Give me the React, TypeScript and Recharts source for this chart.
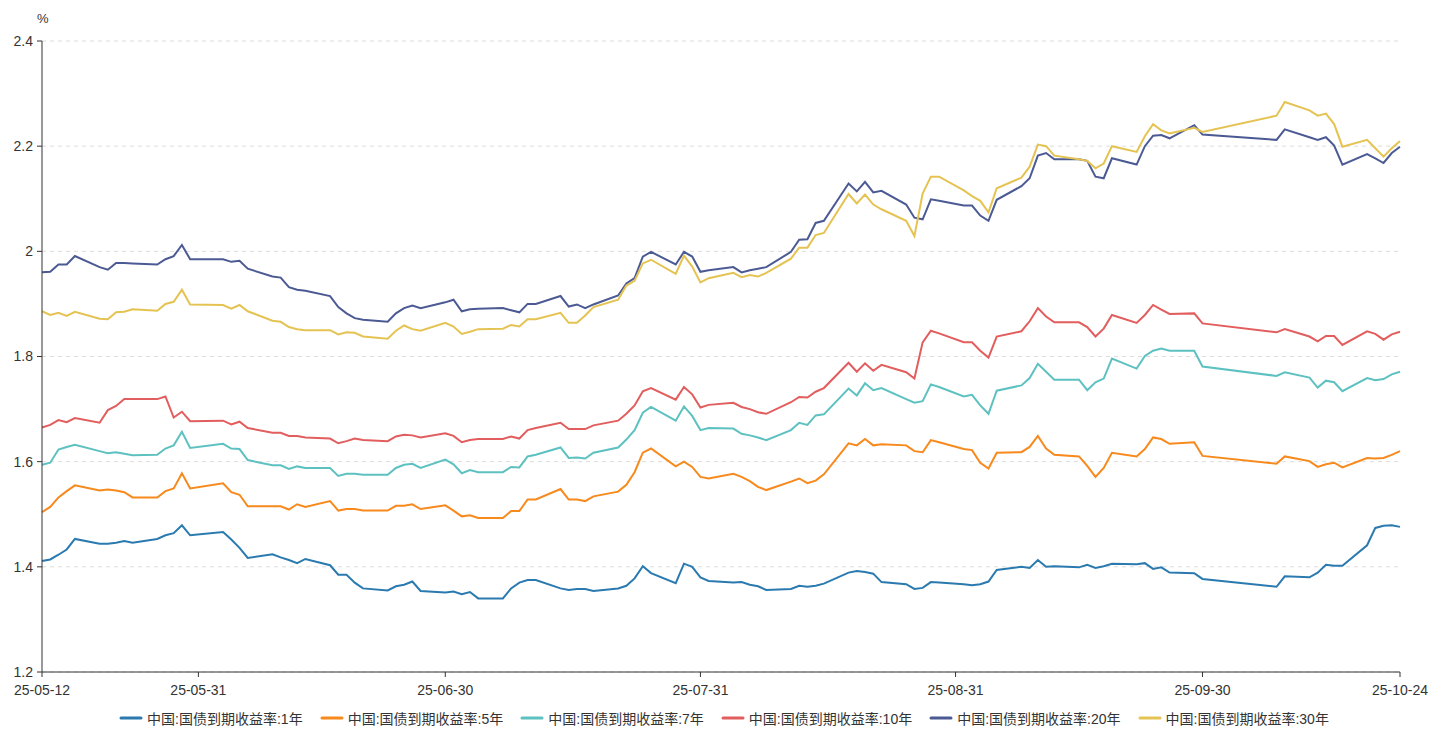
import React from 'react';
import { LineChart, Line, XAxis, YAxis, CartesianGrid, Legend } from 'recharts';

// trading days (2025), month-day
const dates = [
  '05-12', '05-13', '05-14', '05-15', '05-16', '05-19', '05-20', '05-21', '05-22', '05-23', '05-26', '05-27', '05-28', '05-29', '05-30',
  '06-03', '06-04', '06-05', '06-06', '06-09', '06-10', '06-11', '06-12', '06-13', '06-16', '06-17', '06-18', '06-19', '06-20',
  '06-23', '06-24', '06-25', '06-26', '06-27', '06-30',
  '07-01', '07-02', '07-03', '07-04', '07-07', '07-08', '07-09', '07-10', '07-11', '07-14', '07-15', '07-16', '07-17', '07-18',
  '07-21', '07-22', '07-23', '07-24', '07-25', '07-28', '07-29', '07-30', '07-31',
  '08-01', '08-04', '08-05', '08-06', '08-07', '08-08', '08-11', '08-12', '08-13', '08-14', '08-15', '08-18', '08-19', '08-20',
  '08-21', '08-22', '08-25', '08-26', '08-27', '08-28', '08-29',
  '09-01', '09-02', '09-03', '09-04', '09-05', '09-08', '09-09', '09-10', '09-11', '09-12', '09-15', '09-16', '09-17', '09-18',
  '09-19', '09-22', '09-23', '09-24', '09-25', '09-26', '09-29', '09-30',
  '10-09', '10-10', '10-13', '10-14', '10-15', '10-16', '10-17', '10-20', '10-21', '10-22', '10-23', '10-24',
];

const yield1y = [
  1.411, 1.414, 1.423, 1.433, 1.453, 1.444, 1.444, 1.446, 1.449, 1.446, 1.453, 1.460, 1.464, 1.479, 1.460, 1.466, 1.452, 1.436, 1.417,
  1.424, 1.418, 1.413, 1.407, 1.415, 1.403, 1.385, 1.385, 1.370, 1.359, 1.355, 1.363, 1.366, 1.372, 1.354, 1.351, 1.353, 1.348, 1.352, 1.340,
  1.340, 1.359, 1.370, 1.375, 1.375, 1.359, 1.356, 1.358, 1.358, 1.354, 1.359, 1.364, 1.378, 1.401, 1.388, 1.369, 1.406, 1.400, 1.380, 1.373,
  1.370, 1.371, 1.366, 1.363, 1.356, 1.358, 1.364, 1.362, 1.364, 1.368, 1.389, 1.392, 1.390, 1.387, 1.371, 1.367, 1.358, 1.360, 1.371, 1.370,
  1.367, 1.365, 1.367, 1.372, 1.394, 1.400, 1.398, 1.413, 1.400, 1.401, 1.399, 1.404, 1.398, 1.401, 1.406, 1.405, 1.407, 1.396, 1.399, 1.389,
  1.388, 1.377, 1.362, 1.382, 1.380, 1.389, 1.404, 1.402, 1.402, 1.441, 1.474, 1.478, 1.479, 1.476,
];

const yield5y = [
  1.504, 1.514, 1.532, 1.544, 1.555, 1.545, 1.547, 1.545, 1.542, 1.532, 1.532, 1.544, 1.549, 1.578, 1.549, 1.559, 1.542, 1.537, 1.515,
  1.515, 1.515, 1.509, 1.519, 1.514, 1.525, 1.507, 1.510, 1.510, 1.507, 1.507, 1.516, 1.516, 1.519, 1.510, 1.517, 1.507, 1.496, 1.498, 1.493,
  1.493, 1.506, 1.506, 1.528, 1.528, 1.548, 1.528, 1.528, 1.525, 1.534, 1.543, 1.556, 1.580, 1.617, 1.625, 1.591, 1.600, 1.590, 1.571, 1.568,
  1.577, 1.571, 1.563, 1.552, 1.546, 1.562, 1.568, 1.559, 1.564, 1.576, 1.635, 1.631, 1.643, 1.631, 1.633, 1.631, 1.620, 1.618, 1.641, 1.637,
  1.624, 1.622, 1.598, 1.587, 1.617, 1.618, 1.628, 1.649, 1.625, 1.613, 1.610, 1.592, 1.571, 1.588, 1.617, 1.610, 1.624, 1.646, 1.643, 1.634,
  1.637, 1.611, 1.596, 1.610, 1.601, 1.590, 1.595, 1.598, 1.589, 1.607, 1.606, 1.607, 1.613, 1.620,
];

const yield7y = [
  1.594, 1.598, 1.623, 1.628, 1.632, 1.620, 1.616, 1.618, 1.615, 1.612, 1.613, 1.625, 1.631, 1.657, 1.626, 1.634, 1.625, 1.624, 1.603,
  1.593, 1.593, 1.586, 1.591, 1.588, 1.588, 1.573, 1.577, 1.577, 1.575, 1.575, 1.588, 1.594, 1.596, 1.588, 1.604, 1.595, 1.578, 1.584, 1.580,
  1.580, 1.590, 1.589, 1.610, 1.613, 1.627, 1.607, 1.608, 1.606, 1.617, 1.627, 1.642, 1.660, 1.693, 1.704, 1.678, 1.705, 1.687, 1.660, 1.664,
  1.663, 1.653, 1.650, 1.646, 1.641, 1.660, 1.674, 1.670, 1.688, 1.690, 1.739, 1.726, 1.749, 1.736, 1.740, 1.719, 1.712, 1.715, 1.747, 1.742,
  1.724, 1.727, 1.707, 1.691, 1.735, 1.745, 1.759, 1.786, 1.771, 1.756, 1.756, 1.736, 1.751, 1.758, 1.796, 1.777, 1.801, 1.811, 1.815, 1.811,
  1.811, 1.781, 1.763, 1.770, 1.760, 1.741, 1.754, 1.751, 1.734, 1.759, 1.755, 1.757, 1.766, 1.771,
];

const yield10y = [
  1.665, 1.670, 1.679, 1.675, 1.683, 1.674, 1.698, 1.706, 1.719, 1.719, 1.719, 1.724, 1.684, 1.695, 1.677, 1.678, 1.671, 1.676, 1.664,
  1.655, 1.655, 1.649, 1.649, 1.646, 1.644, 1.635, 1.639, 1.644, 1.641, 1.639, 1.648, 1.651, 1.650, 1.646, 1.654, 1.649, 1.637, 1.641, 1.643,
  1.643, 1.648, 1.644, 1.660, 1.664, 1.674, 1.662, 1.662, 1.662, 1.669, 1.678, 1.691, 1.707, 1.734, 1.740, 1.718, 1.742, 1.728, 1.703, 1.708,
  1.712, 1.704, 1.700, 1.694, 1.691, 1.713, 1.723, 1.722, 1.733, 1.740, 1.788, 1.771, 1.787, 1.773, 1.784, 1.770, 1.758, 1.827, 1.849, 1.844,
  1.827, 1.827, 1.811, 1.798, 1.838, 1.848, 1.867, 1.892, 1.876, 1.865, 1.865, 1.856, 1.838, 1.853, 1.879, 1.864, 1.879, 1.898, 1.889, 1.881,
  1.882, 1.863, 1.846, 1.852, 1.838, 1.829, 1.839, 1.839, 1.822, 1.848, 1.843, 1.832, 1.842, 1.847,
];

const yield20y = [
  1.960, 1.961, 1.975, 1.975, 1.991, 1.970, 1.965, 1.978, 1.978, 1.977, 1.975, 1.985, 1.991, 2.012, 1.985, 1.985, 1.980, 1.982, 1.967,
  1.952, 1.950, 1.932, 1.927, 1.925, 1.915, 1.894, 1.882, 1.873, 1.870, 1.866, 1.882, 1.892, 1.897, 1.892, 1.903, 1.908, 1.886, 1.890, 1.891,
  1.892, 1.888, 1.884, 1.900, 1.900, 1.915, 1.895, 1.899, 1.892, 1.899, 1.916, 1.939, 1.949, 1.990, 1.999, 1.975, 1.999, 1.990, 1.961, 1.964,
  1.970, 1.960, 1.964, 1.967, 1.970, 1.999, 2.022, 2.023, 2.054, 2.058, 2.129, 2.114, 2.132, 2.112, 2.115, 2.089, 2.064, 2.061, 2.099, 2.096,
  2.087, 2.087, 2.068, 2.058, 2.098, 2.124, 2.139, 2.182, 2.187, 2.175, 2.175, 2.172, 2.142, 2.139, 2.177, 2.165, 2.200, 2.220, 2.221, 2.215,
  2.240, 2.222, 2.212, 2.232, 2.217, 2.212, 2.217, 2.201, 2.165, 2.185, 2.177, 2.168, 2.187, 2.199,
];

const yield30y = [
  1.886, 1.879, 1.883, 1.877, 1.885, 1.872, 1.871, 1.884, 1.885, 1.890, 1.887, 1.900, 1.904, 1.927, 1.899, 1.898, 1.891, 1.898, 1.886,
  1.868, 1.866, 1.856, 1.852, 1.850, 1.850, 1.842, 1.846, 1.845, 1.838, 1.834, 1.849, 1.859, 1.852, 1.849, 1.864, 1.857, 1.843, 1.847, 1.852,
  1.853, 1.860, 1.857, 1.871, 1.871, 1.883, 1.864, 1.864, 1.878, 1.894, 1.908, 1.935, 1.944, 1.977, 1.984, 1.957, 1.992, 1.971, 1.941, 1.949,
  1.959, 1.951, 1.955, 1.952, 1.959, 1.986, 2.007, 2.007, 2.031, 2.035, 2.109, 2.091, 2.108, 2.089, 2.080, 2.058, 2.029, 2.110, 2.142, 2.142,
  2.116, 2.105, 2.096, 2.074, 2.120, 2.140, 2.161, 2.203, 2.200, 2.182, 2.175, 2.172, 2.158, 2.167, 2.200, 2.189, 2.219, 2.242, 2.230, 2.224,
  2.235, 2.227, 2.258, 2.284, 2.268, 2.258, 2.262, 2.242, 2.199, 2.212, 2.196, 2.180, 2.196, 2.210,
];

const seriesNames = [
  '中国:国债到期收益率:1年',
  '中国:国债到期收益率:5年',
  '中国:国债到期收益率:7年',
  '中国:国债到期收益率:10年',
  '中国:国债到期收益率:20年',
  '中国:国债到期收益率:30年',
];
const seriesColors = ['#2a7ab0', '#f7891d', '#5ec1c1', '#e25d5d', '#4c5a94', '#e5c352'];
const seriesValues = [yield1y, yield5y, yield7y, yield10y, yield20y, yield30y];

const xTickLabels = ['25-05-12', '25-05-31', '25-06-30', '25-07-31', '25-08-31', '25-09-30', '25-10-24'];
const yTicks = [1.2, 1.4, 1.6, 1.8, 2, 2.2, 2.4];

const FONT = '"Liberation Sans", "Noto Sans CJK SC", sans-serif';
const DAY = 86400000;
const toTime = (md: string) => Date.UTC(2025, +md.slice(0, 2) - 1, +md.slice(3, 5));
const t0 = toTime(dates[0]);
const dayOf = (md: string) => Math.round((toTime(md) - t0) / DAY);

const xTicks = xTickLabels.map((l) => dayOf(l.slice(3)));
const tickLabelOf = (v: number) => xTickLabels[xTicks.indexOf(v)] ?? '';

const data = dates.map((d, i) => {
  const row: Record<string, number> = { t: dayOf(d) };
  seriesValues.forEach((vals, k) => {
    row[`s${k}`] = vals[i];
  });
  return row;
});

const LegendContent = () => (
  <div
    style={{
      display: 'flex',
      justifyContent: 'center',
      alignItems: 'center',
      fontFamily: FONT,
      fontSize: 14,
      color: '#333',
      height: 24,
      paddingLeft: 40,
      boxSizing: 'border-box',
    }}
  >
    {seriesNames.map((name, i) => (
      <span key={name} style={{ display: 'inline-flex', alignItems: 'center', margin: '0 8.5px' }}>
        <svg width={24} height={8} style={{ marginRight: 4 }}>
          <line x1={2} y1={4} x2={22} y2={4} stroke={seriesColors[i]} strokeWidth={3} strokeLinecap="round" />
        </svg>
        {name}
      </span>
    ))}
  </div>
);

export default function App() {
  return (
    <div style={{ position: 'relative', width: 1430, height: 728, fontFamily: FONT }}>
      <div style={{ position: 'absolute', left: 29, top: 3, fontSize: 13, color: '#333' }}>%</div>
      <LineChart
        width={1430}
        height={728}
        data={data}
        margin={{ top: 33, right: 38, left: 0, bottom: 6 }}
      >
        <CartesianGrid vertical={false} stroke="#dcdcdc" strokeDasharray="4 4" />
        <XAxis
          dataKey="t"
          type="number"
          domain={[0, xTicks[xTicks.length - 1]]}
          ticks={xTicks}
          tickFormatter={tickLabelOf}
          height={34}
          tickSize={5}
          tickMargin={8}
          stroke="#333"
          tick={{ fill: '#333', fontSize: 14 }}
          interval={0}
        />
        <YAxis
          domain={[1.2, 2.4]}
          ticks={yTicks}
          width={34}
          tickSize={5}
          tickMargin={4}
          stroke="#333"
          tick={{ fill: '#333', fontSize: 14 }}
          interval={0}
        />
        <Legend verticalAlign="bottom" height={24} content={<LegendContent />} />
        {seriesNames.map((name, k) => (
          <Line
            key={name}
            type="linear"
            dataKey={`s${k}`}
            name={name}
            stroke={seriesColors[k]}
            strokeWidth={2}
            dot={false}
            isAnimationActive={false}
          />
        ))}
      </LineChart>
    </div>
  );
}
